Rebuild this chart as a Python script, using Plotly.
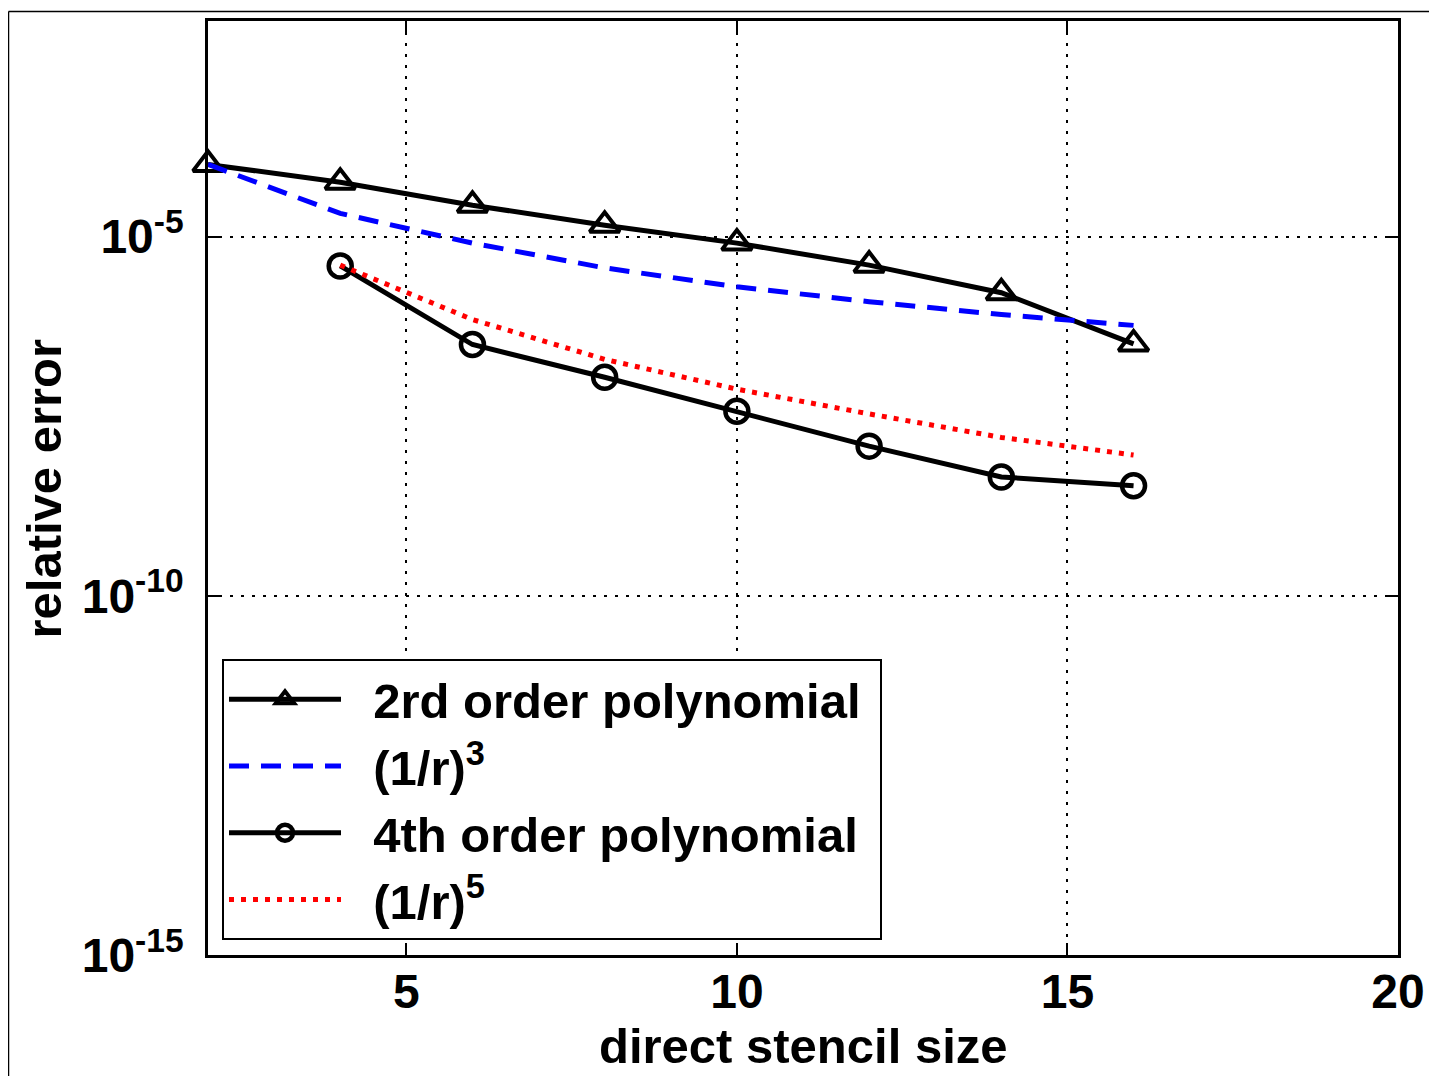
import plotly.graph_objects as go

# ---- data ----
stencil_poly2 = [2, 4, 6, 8, 10, 12, 14, 16]
err_poly2 = [1.01e-4, 5.7e-5, 2.73e-5, 1.44e-5, 8.1e-6, 4.0e-6, 1.65e-6, 3.2e-7]

stencil_r3 = [2, 4, 6, 8, 10, 12, 14, 16]
err_r3 = [1.01e-4, 2.1e-5, 8.1e-6, 3.66e-6, 2.0e-6, 1.24e-6, 8.2e-7, 5.8e-7]

stencil_poly4 = [4, 6, 8, 10, 12, 14, 16]
err_poly4 = [3.9e-6, 3.14e-7, 1.10e-7, 3.7e-8, 1.21e-8, 4.5e-9, 3.4e-9]

stencil_r5 = [4, 6, 8, 10, 12, 14, 16]
err_r5 = [4.0e-6, 7.0e-7, 1.95e-7, 7.5e-8, 3.4e-8, 1.6e-8, 9.1e-9]

names = ["2rd order polynomial", "(1/r)<sup>3</sup>", "4th order polynomial", "(1/r)<sup>5</sup>"]

x_tickvals = [5, 10, 15, 20]
x_ticktext = ["5", "10", "15", "20"]
y_tickvals = [1e-15, 1e-10, 1e-5]
y_ticktext = ["10<sup>-15</sup>", "10<sup>-10</sup>", "10<sup>-5</sup>"]

SANS = "Liberation Sans, Arial, Helvetica, sans-serif"

# page geometry (the figure sits at an 8px body offset in the page)
OFF = 8
W, H = 1437 - OFF, 1076 - OFF
PL, PR, PT, PB = 208, 1398, 18, 955          # plot area in page pixels
L, R, T, B = PL - OFF, W - (PR - OFF), PT - OFF, H - (PB - OFF)
PW, PH = PR - PL, PB - PT


def px_x(px):
    return (px - PL) / PW


def px_y(py):
    return (PB - py) / PH


def pad(s, lead=2, trail=0):
    return "&nbsp;" * lead + s + "&nbsp;" * trail


fig = go.Figure()
fig.add_trace(go.Scatter(
    x=stencil_poly2, y=err_poly2, name=pad(names[0], 2, 1), mode="lines+markers",
    line=dict(color="black", width=5), cliponaxis=False,
    marker=dict(symbol="triangle-up-open", size=26, color="black", line=dict(width=4, color="black")),
))
fig.add_trace(go.Scatter(
    x=stencil_r3, y=err_r3, name=pad(names[1]), mode="lines",
    line=dict(color="#0000ff", width=5, dash="20px,12px"),
))
fig.add_trace(go.Scatter(
    x=stencil_poly4, y=err_poly4, name=pad(names[2]), mode="lines+markers",
    line=dict(color="black", width=5), cliponaxis=False,
    marker=dict(symbol="circle-open", size=23, color="black", line=dict(width=4.5, color="black")),
))
fig.add_trace(go.Scatter(
    x=stencil_r5, y=err_r5, name=pad(names[3]), mode="lines",
    line=dict(color="#ff0000", width=5, dash="5px,7px"),
))

axis_common = dict(
    showline=True, linecolor="black", linewidth=2.5, mirror="allticks",
    ticks="inside", ticklen=12, tickwidth=2, tickcolor="black",
    showgrid=True, gridcolor="black", gridwidth=2, griddash="3px,8px",
    zeroline=False,
    tickfont=dict(family=SANS, size=48, color="black", weight="bold"),
)

fig.update_xaxes(
    range=[2, 20], tickmode="array", tickvals=x_tickvals, ticktext=x_ticktext,
    ticklabelstandoff=-7,
    **axis_common,
)
fig.update_yaxes(
    type="log", range=[-15, -2], tickmode="array", tickvals=y_tickvals, ticktext=y_ticktext,
    ticklabelstandoff=12,
    **axis_common,
)

fig.add_annotation(
    text="direct stencil size", xref="paper", yref="paper",
    x=px_x(803), y=px_y(1046), xanchor="center", yanchor="middle",
    showarrow=False, font=dict(family=SANS, size=49, color="black", weight="bold"),
)
fig.add_annotation(
    text="relative error", xref="paper", yref="paper",
    x=px_x(44), y=px_y(487), xanchor="center", yanchor="middle", textangle=-90,
    showarrow=False, font=dict(family=SANS, size=49, color="black", weight="bold"),
)

# partial outer frame (top and left)
fig.add_shape(type="line", xref="paper", yref="paper",
              x0=px_x(8.5), y0=px_y(1080), x1=px_x(8.5), y1=px_y(8.5),
              line=dict(color="black", width=1.5))
fig.add_shape(type="line", xref="paper", yref="paper",
              x0=px_x(8.5), y0=px_y(8.5), x1=px_x(1440), y1=px_y(8.5),
              line=dict(color="black", width=1.5))

fig.update_layout(
    width=W, height=H,
    margin=dict(l=L, r=R, t=T, b=B, pad=0),
    paper_bgcolor="white", plot_bgcolor="white",
    showlegend=True,
    legend=dict(
        x=px_x(222), y=px_y(658), xanchor="left", yanchor="top",
        bgcolor="white", bordercolor="black", borderwidth=2,
        font=dict(family=SANS, size=49, color="black", weight="bold"),
        itemwidth=112, tracegroupgap=0,
    ),
)

fig.write_html("out.html")
